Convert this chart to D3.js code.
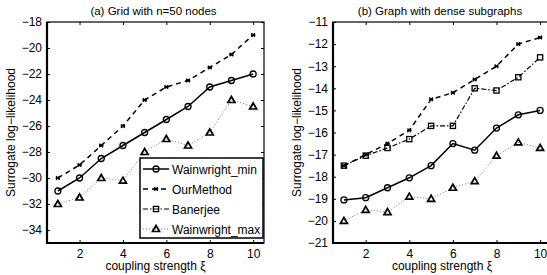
<!DOCTYPE html>
<html>
<head>
<meta charset="utf-8">
<script src="https://cdn.jsdelivr.net/npm/d3@7"></script>
<style>
  body { margin: 0; background: #fff; }
  svg { font-family: "Liberation Sans", Arial, sans-serif; }
</style>
</head>
<body>
<svg id="chart" width="547" height="275"></svg>
<script>
const xs = [1, 2, 3, 4, 5, 6, 7, 8, 9, 10];
const xTicks = [2, 4, 6, 8, 10];

// panel (a)
const gridMin = [-31, -30, -28.5, -27.5, -26.5, -25.5, -24.5, -23, -22.5, -22];
const gridOur = [-30, -29, -27.5, -26, -24, -23, -22.5, -21.5, -20.5, -19];
const gridMax = [-32, -31.5, -30, -30.2, -28, -27, -27.5, -26.5, -24, -24.5];
const gridTicks = [-34, -32, -30, -28, -26, -24, -22, -20, -18];

// panel (b)
const denseMin = [-19.05, -18.95, -18.5, -18.05, -17.5, -16.5, -16.8, -15.8, -15.2, -15.0];
const denseOur = [-17.5, -17.0, -16.5, -15.9, -14.5, -14.2, -13.6, -13.0, -12.0, -11.7];
const denseBan = [-17.5, -17.05, -16.7, -16.3, -15.7, -15.7, -14.0, -14.1, -13.5, -12.6];
const denseMax = [-20, -19.5, -19.6, -18.9, -19.0, -18.5, -18.2, -17.05, -16.45, -16.7];
const denseTicks = [-21, -20, -19, -18, -17, -16, -15, -14, -13, -12, -11];

const legendNames = ['Wainwright_min', 'OurMethod', 'Banerjee', 'Wainwright_max'];

const styles = {
  min: { dash: null, width: 1.5, color: '#000', marker: 'circle' },
  our: { dash: '5,4', width: 1.5, color: '#000', marker: 'star' },
  ban: { dash: '5,2,1.5,2', width: 1.2, color: '#000', marker: 'square' },
  max: { dash: '1,2', width: 1, color: '#777', marker: 'triangle' }
};

const svg = d3.select('#chart');
const fmt = d => (d < 0 ? '\u2212' + Math.abs(d) : String(d));

function drawMarker(g, type, x, y) {
  if (type === 'circle') {
    g.append('circle').attr('cx', x).attr('cy', y).attr('r', 3)
      .attr('fill', 'none').attr('stroke', '#000').attr('stroke-width', 1.3);
  } else if (type === 'square') {
    g.append('rect').attr('x', x - 2.6).attr('y', y - 2.6).attr('width', 5.2).attr('height', 5.2)
      .attr('fill', 'none').attr('stroke', '#000').attr('stroke-width', 1.3);
  } else if (type === 'triangle') {
    g.append('path').attr('d', `M${x},${y - 3.5}L${x + 3.5},${y + 2.5}L${x - 3.5},${y + 2.5}Z`)
      .attr('fill', 'none').attr('stroke', '#000').attr('stroke-width', 1.7);
  } else {
    g.append('path')
      .attr('d', `M${x - 1.8},${y - 1.8}L${x + 1.8},${y + 1.8}M${x - 1.8},${y + 1.8}L${x + 1.8},${y - 1.8}M${x - 2.2},${y}L${x + 2.2},${y}`)
      .attr('stroke', '#000').attr('stroke-width', 1.3);
  }
}

function panel(opt) {
  const x = d3.scaleLinear().domain([0.5, 10.5]).range([opt.left, opt.right]);
  const y = d3.scaleLinear().domain(opt.yDomain).range([243, 22]);
  const g = svg.append('g');

  g.append('text').attr('x', (opt.left + opt.right) / 2 - 2).attr('y', 15)
    .attr('text-anchor', 'middle').attr('font-size', 11.5).text(opt.title);

  const yAxis = g.append('g').attr('transform', `translate(${opt.left},0)`)
    .call(d3.axisLeft(y).tickValues(opt.yTicks).tickSize(-3).tickPadding(5).tickFormat(fmt));
  const yAxisR = g.append('g').attr('transform', `translate(${opt.right},0)`)
    .call(d3.axisRight(y).tickValues(opt.yTicks).tickSize(-3).tickFormat(''));
  const xAxis = g.append('g').attr('transform', 'translate(0,243)')
    .call(d3.axisBottom(x).tickValues(xTicks).tickSize(-3).tickPadding(6).tickFormat(fmt));
  const xAxisT = g.append('g').attr('transform', 'translate(0,22)')
    .call(d3.axisTop(x).tickValues(xTicks).tickSize(-3).tickFormat(''));
  [yAxis, yAxisR, xAxis, xAxisT].forEach(a => {
    a.select('.domain').remove();
    a.selectAll('text').attr('font-size', 12).attr('fill', '#000')
      .attr('font-family', '"Liberation Sans", Arial, sans-serif');
    a.selectAll('line').attr('stroke', '#000');
  });

  g.append('rect').attr('x', opt.left).attr('y', 22)
    .attr('width', opt.right - opt.left).attr('height', 221)
    .attr('fill', 'none').attr('stroke', '#000').attr('stroke-width', 1.2);
  g.append('path').attr('d', `M${opt.left},22V243H${opt.right}`)
    .attr('fill', 'none').attr('stroke', '#000').attr('stroke-width', 2.2);

  const line = d3.line().x((d, i) => x(xs[i])).y(d => y(d));
  const order = ['max', 'ban', 'min', 'our'];
  order.forEach(k => {
    const vals = opt.series[k];
    if (!vals) return;
    const s = styles[k];
    g.append('path').datum(vals).attr('d', line).attr('fill', 'none')
      .attr('stroke', s.color).attr('stroke-width', s.width)
      .attr('stroke-dasharray', s.dash);
    const mg = g.append('g');
    vals.forEach((v, i) => drawMarker(mg, s.marker, x(xs[i]), y(v)));
  });

  g.append('text').attr('transform', `translate(${opt.left - 32},${(22 + 243) / 2}) rotate(-90)`)
    .attr('text-anchor', 'middle').attr('font-size', 12).text('Surrogate log\u2212likelihood');
  g.append('text').attr('x', (opt.left + opt.right) / 2).attr('y', 270)
    .attr('text-anchor', 'middle').attr('font-size', 12).text('coupling strength \u03BE');

  return g;
}

const gA = panel({
  left: 47, right: 264, yDomain: [-35, -18], yTicks: gridTicks,
  title: '(a) Grid with n=50 nodes',
  series: { min: gridMin, our: gridOur, max: gridMax }
});

panel({
  left: 333, right: 551, yDomain: [-21, -11], yTicks: denseTicks,
  title: '(b) Graph with dense subgraphs',
  series: { min: denseMin, our: denseOur, ban: denseBan, max: denseMax }
});

// legend in panel (a)
const leg = gA.append('g');
leg.append('rect').attr('x', 140).attr('y', 158).attr('width', 123).attr('height', 80)
  .attr('fill', '#fff').attr('stroke', '#000').attr('stroke-width', 1.5);
const legKeys = ['min', 'our', 'ban', 'max'];
legKeys.forEach((k, i) => {
  const yy = 169 + i * 20;
  const s = styles[k];
  leg.append('line').attr('x1', 143).attr('x2', 169).attr('y1', yy).attr('y2', yy)
    .attr('stroke', s.color).attr('stroke-width', s.width).attr('stroke-dasharray', s.dash);
  drawMarker(leg, s.marker, 156, yy);
  leg.append('text').attr('x', 172).attr('y', yy + 4.5).attr('font-size', 12).text(legendNames[i]);
});
</script>
</body>
</html>
